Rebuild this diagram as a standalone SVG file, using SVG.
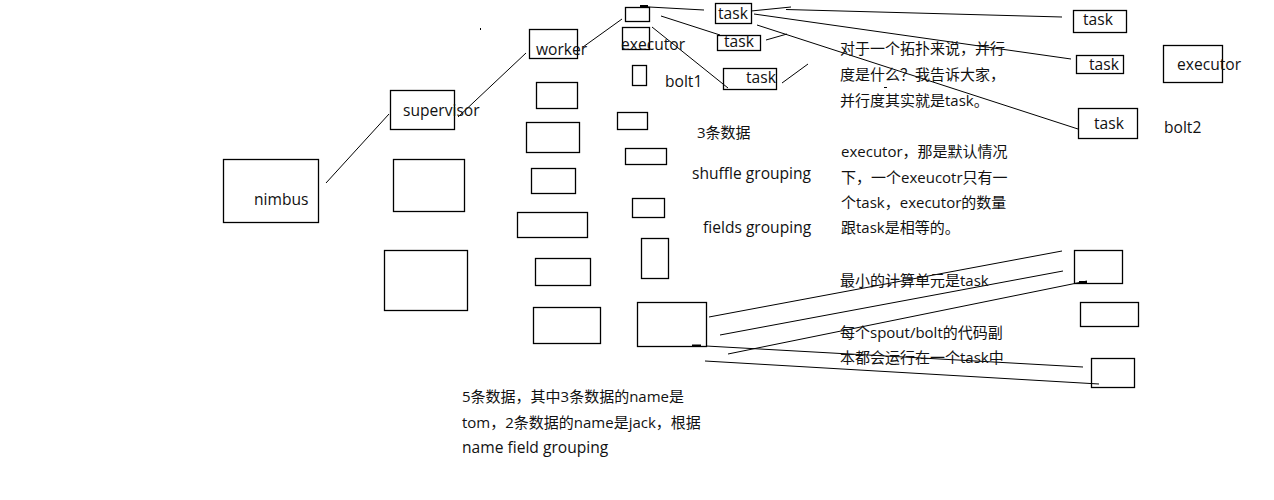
<svg xmlns="http://www.w3.org/2000/svg" width="1274" height="500" viewBox="0 0 1274 500">
<style>
.b{fill:none;stroke:#000;stroke-width:1.3}
.l{fill:none;stroke:#000;stroke-width:1}
text{font-family:"Open Sans","Noto Sans CJK SC",sans-serif;font-size:15px;fill:#111}
.w{font-size:15.6px}
</style>
<rect width="1274" height="500" fill="#fff"/>
<g id="connectors">
<line class="l" x1="326" y1="183" x2="389" y2="114"/>
<line class="l" x1="458" y1="117" x2="526" y2="53"/>
<line class="l" x1="583" y1="47" x2="622" y2="19"/>
<line class="l" x1="640" y1="6.5" x2="704" y2="10"/>
<rect x="640" y="5" width="8" height="2" fill="#000"/>
<line class="l" x1="661" y1="16" x2="720" y2="35"/>
<line class="l" x1="652" y1="27" x2="728" y2="88"/>
<line class="l" x1="751" y1="11" x2="791" y2="7"/>
<line class="l" x1="786" y1="9.5" x2="1062" y2="17"/>
<line class="l" x1="754" y1="14" x2="1071" y2="59"/>
<line class="l" x1="757" y1="25" x2="1078" y2="129"/>
<line class="l" x1="766" y1="40" x2="787" y2="34"/>
<line class="l" x1="782" y1="83" x2="808" y2="64"/>
<line class="l" x1="709" y1="317" x2="1062" y2="251"/>
<line class="l" x1="720" y1="335" x2="1063" y2="271"/>
<line class="l" x1="728" y1="354" x2="1087" y2="281"/>
<rect x="1079" y="281" width="8" height="2" fill="#000"/>
<line class="l" x1="706" y1="346" x2="1083" y2="367"/>
<line class="l" x1="705" y1="361" x2="1099" y2="384"/>
</g>
<g id="nimbus"><rect class="b" x="223.5" y="159.5" width="95" height="63"/><text class="w" x="254" y="205">nimbus</text></g>
<g id="supervisor"><rect class="b" x="390.5" y="90.5" width="64" height="39"/><text class="w" x="403" y="116">supervisor</text></g>
<g id="supervisor2"><rect class="b" x="393.5" y="159.5" width="71" height="52"/></g>
<g id="supervisor3"><rect class="b" x="384.5" y="250.5" width="83" height="60"/></g>
<g id="worker"><rect class="b" x="529.5" y="29.5" width="48" height="29"/><text class="w" x="536" y="55">worker</text></g>
<g id="worker2"><rect class="b" x="536.5" y="82.5" width="41" height="26"/></g>
<g id="worker3"><rect class="b" x="526.5" y="122.5" width="53" height="30"/></g>
<g id="worker4"><rect class="b" x="531.5" y="168.5" width="44" height="25"/></g>
<g id="worker5"><rect class="b" x="517.5" y="212.5" width="70" height="25"/></g>
<g id="worker6"><rect class="b" x="535.5" y="258.5" width="55" height="27"/></g>
<g id="worker7"><rect class="b" x="533.5" y="307.5" width="67" height="36"/></g>
<g id="exec-top"><rect class="b" x="625.5" y="7.5" width="24" height="14"/></g>
<g id="executor"><rect class="b" x="622.5" y="27.5" width="27" height="22"/><text class="w" x="621" y="50">executor</text></g>
<g id="exec3"><rect class="b" x="632.5" y="65.5" width="14" height="20"/></g>
<g id="exec4"><rect class="b" x="617.5" y="112.5" width="30" height="17"/></g>
<g id="exec5"><rect class="b" x="625.5" y="148.5" width="41" height="16"/></g>
<g id="exec6"><rect class="b" x="632.5" y="198.5" width="32" height="19"/></g>
<g id="exec7"><rect class="b" x="641.5" y="238.5" width="27" height="40"/></g>
<g id="exec8"><rect class="b" x="637.5" y="302.5" width="69" height="44"/><rect x="692" y="344.5" width="9" height="2" fill="#000"/></g>
<g id="bolt1"><text class="w" x="665" y="87">bolt1</text></g>
<g id="task1"><rect class="b" x="715.5" y="3.5" width="36" height="20"/><text class="w" x="718" y="19">task</text></g>
<g id="task2"><rect class="b" x="717.5" y="35.5" width="43" height="15"/><text class="w" x="724" y="47">task</text></g>
<g id="task3"><rect class="b" x="723.5" y="68.5" width="53" height="21"/><text class="w" x="746" y="83">task</text></g>
<g id="rtask1"><rect class="b" x="1073.5" y="10.5" width="53" height="22"/><text class="w" x="1083" y="25">task</text></g>
<g id="rtask2"><rect class="b" x="1076.5" y="55.5" width="47" height="18"/><text class="w" x="1089" y="70">task</text></g>
<g id="rtask3"><rect class="b" x="1078.5" y="108.5" width="59" height="30"/><text class="w" x="1094" y="129">task</text></g>
<g id="rexecutor"><rect class="b" x="1163.5" y="45.5" width="59" height="37"/><text class="w" x="1177" y="70">executor</text></g>
<g id="bolt2"><text class="w" x="1164" y="133">bolt2</text></g>
<g id="rbox1"><rect class="b" x="1074.5" y="250.5" width="48" height="33"/></g>
<g id="rbox2"><rect class="b" x="1080.5" y="302.5" width="58" height="24"/></g>
<g id="rbox3"><rect class="b" x="1091.5" y="358.5" width="43" height="29"/></g>
<g id="labels">
<text x="697" y="138">3条数据</text>
<text class="w" x="692" y="179">shuffle grouping</text>
<text class="w" x="703" y="233">fields grouping</text>
<text x="840" y="54">对于一个拓扑来说，并行</text>
<text x="840" y="80">度是什么？我告诉大家，</text>
<text x="840" y="106">并行度其实就是task。</text>
<text x="841" y="157">executor，那是默认情况</text>
<text x="841" y="183">下，一个exeucotr只有一</text>
<text x="841" y="208">个task，executor的数量</text>
<text x="841" y="233">跟task是相等的。</text>
<text x="840" y="286">最小的计算单元是task</text>
<text x="840" y="338">每个spout/bolt的代码副</text>
<text x="840" y="363">本都会运行在一个task中</text>
<text x="462" y="402">5条数据，其中3条数据的name是</text>
<text x="462" y="428">tom，2条数据的name是jack，根据</text>
<text class="w" x="462" y="453">name field grouping</text>
</g>
<rect x="480" y="28" width="1" height="2" fill="#000"/>
<rect x="884" y="87" width="3" height="1" fill="#000"/>
</svg>
